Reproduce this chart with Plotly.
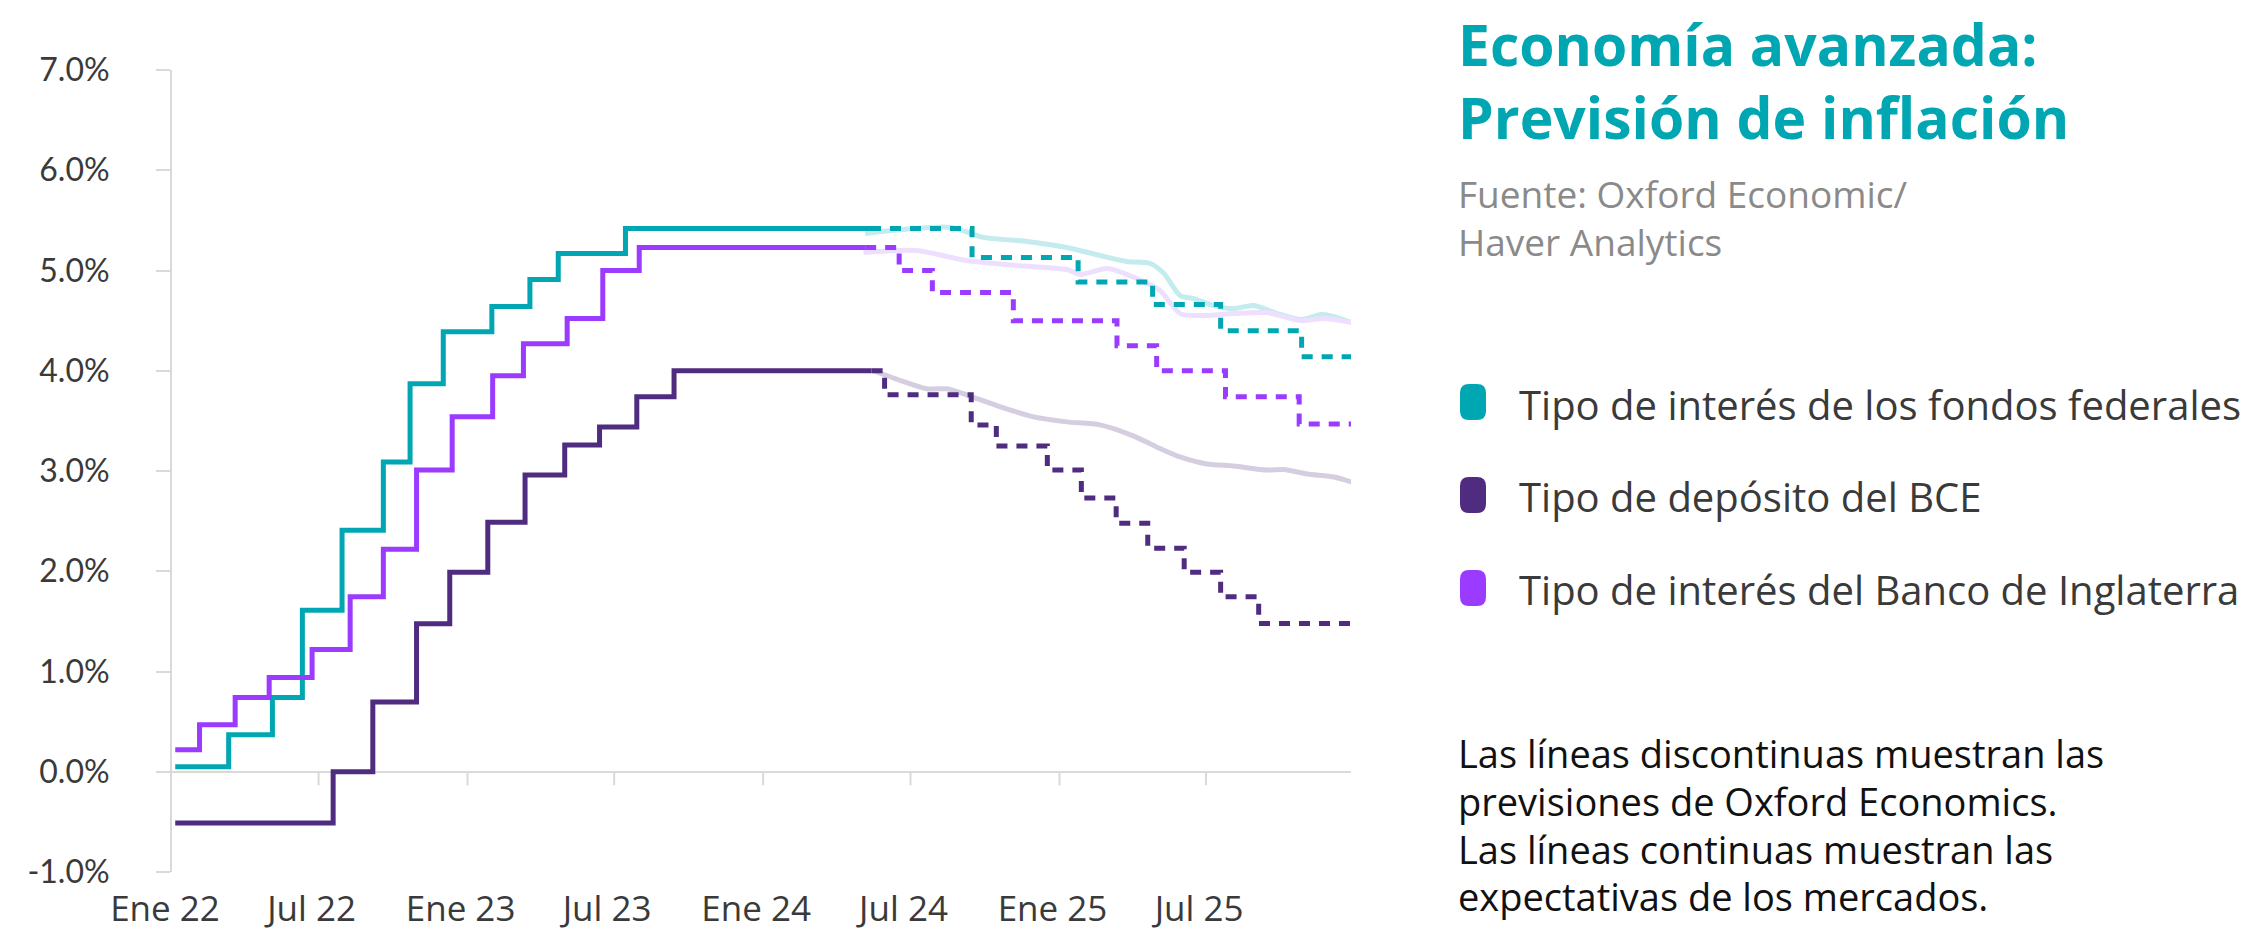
import plotly.graph_objects as go

# ---------------- data ----------------
fed_hist_dates = ["2022-01-05", "2022-03-12", "2022-05-05", "2022-06-11", "2022-07-30", "2022-09-19",
                  "2022-10-22", "2022-12-02", "2023-01-31", "2023-03-19", "2023-04-23", "2023-07-15",
                  "2024-05-12"]
fed_hist_vals = [0.05, 0.37, 0.74, 1.61, 2.41, 3.09, 3.87, 4.39, 4.64, 4.91, 5.17, 5.42, 5.42]

fed_fc_dates = ["2024-05-12", "2024-09-15", "2025-01-24", "2025-04-26", "2025-07-19", "2025-10-27", "2025-12-28"]
fed_fc_vals = [5.42, 5.13, 4.885, 4.66, 4.40, 4.14, 4.14]

fed_mkt_dates = ["2024-05-06", "2024-08-19", "2024-09-29", "2024-11-22", "2025-01-10", "2025-02-20",
                 "2025-03-25", "2025-04-23", "2025-05-10", "2025-05-30", "2025-06-16", "2025-07-10",
                 "2025-08-04", "2025-08-29", "2025-09-27", "2025-10-26", "2025-11-20", "2025-12-06",
                 "2025-12-28"]
fed_mkt_vals = [5.37, 5.43, 5.33, 5.29, 5.23, 5.15, 5.09, 5.07, 4.97, 4.75, 4.72, 4.65, 4.62, 4.65,
                4.57, 4.51, 4.56, 4.54, 4.48]

ecb_hist_dates = ["2022-01-05", "2022-07-19", "2022-09-06", "2022-10-30", "2022-12-10", "2023-01-26",
                  "2023-03-13", "2023-05-01", "2023-06-13", "2023-07-29", "2023-09-13", "2024-05-14"]
ecb_hist_vals = [-0.51, 0.0, 0.695, 1.476, 1.99, 2.49, 2.96, 3.26, 3.44, 3.74, 4.0, 4.0]

ecb_fc_dates = ["2024-05-14", "2024-05-30", "2024-09-14", "2024-10-15", "2024-12-17", "2025-01-28",
                "2025-03-12", "2025-04-20", "2025-06-04", "2025-07-19", "2025-09-04", "2025-12-28"]
ecb_fc_vals = [4.0, 3.76, 3.46, 3.25, 3.01, 2.73, 2.48, 2.23, 1.99, 1.745, 1.48, 1.48]

ecb_mkt_dates = ["2024-05-16", "2024-06-18", "2024-07-21", "2024-08-15", "2024-09-08", "2024-10-20",
                 "2024-11-30", "2025-01-10", "2025-02-20", "2025-04-02", "2025-05-01", "2025-05-30",
                 "2025-07-02", "2025-08-04", "2025-09-14", "2025-10-05", "2025-11-03", "2025-12-06",
                 "2025-12-28"]
ecb_mkt_vals = [4.0, 3.905, 3.82, 3.82, 3.76, 3.64, 3.54, 3.49, 3.46, 3.35, 3.24, 3.14, 3.07, 3.05,
                3.01, 3.015, 2.97, 2.94, 2.89]

boe_hist_dates = ["2022-01-05", "2022-02-04", "2022-03-20", "2022-05-01", "2022-06-23", "2022-08-09",
                  "2022-09-19", "2022-10-30", "2022-12-13", "2023-02-01", "2023-03-11", "2023-05-04",
                  "2023-06-17", "2023-08-01", "2024-05-06"]
boe_hist_vals = [0.22, 0.47, 0.74, 0.94, 1.22, 1.745, 2.22, 3.01, 3.54, 3.95, 4.27, 4.52, 5.00, 5.23, 5.23]

boe_fc_dates = ["2024-05-06", "2024-06-17", "2024-07-28", "2024-11-05", "2025-03-13", "2025-05-01",
                "2025-07-25", "2025-10-24", "2025-12-28"]
boe_fc_vals = [5.23, 5.00, 4.78, 4.50, 4.25, 4.00, 3.74, 3.47, 3.47]

boe_mkt_dates = ["2024-05-04", "2024-07-08", "2024-09-08", "2024-11-09", "2025-01-10", "2025-01-27",
                 "2025-03-01", "2025-04-02", "2025-05-05", "2025-05-30", "2025-06-24", "2025-08-04",
                 "2025-09-14", "2025-10-26", "2025-11-24", "2025-12-28"]
boe_mkt_vals = [5.18, 5.20, 5.10, 5.05, 5.01, 4.96, 5.02, 4.935, 4.80, 4.57, 4.55, 4.57, 4.58, 4.50,
                4.52, 4.48]

x_tick_dates = ["2022-01-01", "2022-07-01", "2023-01-01", "2023-07-01", "2024-01-01", "2024-07-01",
                "2025-01-01", "2025-07-01"]
x_tick_labels = ["Ene 22", "Jul 22", "Ene 23", "Jul 23", "Ene 24", "Jul 24", "Ene 25", "Jul 25"]
y_tick_vals = [-1, 0, 1, 2, 3, 4, 5, 6, 7]
y_tick_labels = ["-1.0%", "0.0%", "1.0%", "2.0%", "3.0%", "4.0%", "5.0%", "6.0%", "7.0%"]

legend_labels = ["Tipo de interés de los fondos federales", "Tipo de depósito del BCE",
                 "Tipo de interés del Banco de Inglaterra"]
title_lines = ["Economía avanzada:", "Previsión de inflación"]
source_lines = ["Fuente: Oxford Economic/", "Haver Analytics"]
note_lines = ["Las líneas discontinuas muestran las", "previsiones de Oxford Economics.",
              "Las líneas continuas muestran las", "expectativas de los mercados."]

# ---------------- style ----------------
TEAL = "#00A6B1"
DARK = "#4F2C7F"
VIOLET = "#9A3BFF"
TEAL_L = "#C4EBED"
DARK_L = "#D5CEE0"
VIOLET_L = "#EEDFFF"
AXIS = "#D9D9D9"
TXT = "#3A3A3A"
FONT = "Lato"
FONT2 = "Open Sans"

W, H = 2253, 931
PL, PR, PT, PB = 172, 1351, 70, 872


def px(x):
    return (x - PL) / (PR - PL)


def py(y):
    return (PB - y) / (PB - PT)


fig = go.Figure()

# market expectations (light, smooth)
for d, v, c in [(fed_mkt_dates, fed_mkt_vals, TEAL_L), (boe_mkt_dates, boe_mkt_vals, VIOLET_L),
                (ecb_mkt_dates, ecb_mkt_vals, DARK_L)]:
    fig.add_trace(go.Scatter(x=d, y=v, mode="lines", showlegend=False, hoverinfo="skip",
                             line=dict(color=c, width=5, shape="spline", smoothing=0.7)))

# forecasts (dashed steps)
for d, v, c in [(fed_fc_dates, fed_fc_vals, TEAL), (boe_fc_dates, boe_fc_vals, VIOLET),
                (ecb_fc_dates, ecb_fc_vals, DARK)]:
    fig.add_trace(go.Scatter(x=d, y=v, mode="lines", showlegend=False, hoverinfo="skip",
                             line=dict(color=c, width=5, shape="hv", dash="11px,9px")))

# history (solid steps)
for d, v, c in [(fed_hist_dates, fed_hist_vals, TEAL), (boe_hist_dates, boe_hist_vals, VIOLET),
                (ecb_hist_dates, ecb_hist_vals, DARK)]:
    fig.add_trace(go.Scatter(x=d, y=v, mode="lines", showlegend=False, hoverinfo="skip",
                             line=dict(color=c, width=5, shape="hv")))

shapes = []
# x tick marks hanging below the zero line
for d in x_tick_dates[1:]:
    shapes.append(dict(type="line", xref="x", yref="y", x0=d, x1=d, y0=0, y1=-0.135,
                       line=dict(color=AXIS, width=2)))

# legend pills
pill = "M -13,-9 L -13,9 Q -13,18 -4,18 L 4,18 Q 13,18 13,9 L 13,-9 Q 13,-18 4,-18 L -4,-18 Q -13,-18 -13,-9 Z"
for c, yc in zip([TEAL, DARK, VIOLET], [402, 495, 588]):
    shapes.append(dict(type="path", xref="paper", yref="paper", xsizemode="pixel", ysizemode="pixel",
                       xanchor=px(1473), yanchor=py(yc), path=pill, fillcolor=c, line=dict(width=0)))

ann = []
for t, yc in zip(title_lines, [44, 117]):
    ann.append(dict(text=t, x=px(1456), y=py(yc), xref="paper", yref="paper", xanchor="left",
                    yanchor="middle", showarrow=False,
                    font=dict(family=FONT2, size=57, color=TEAL, weight=700)))
for t, yc in zip(source_lines, [193, 241]):
    ann.append(dict(text=t, x=px(1456), y=py(yc), xref="paper", yref="paper", xanchor="left",
                    yanchor="middle", showarrow=False,
                    font=dict(family=FONT2, size=37, color="#8A8A8A")))
for t, yc in zip(legend_labels, [404, 496, 589]):
    ann.append(dict(text=t, x=px(1517), y=py(yc), xref="paper", yref="paper", xanchor="left",
                    yanchor="middle", showarrow=False,
                    font=dict(family=FONT2, size=40, color=TXT)))
for t, yc in zip(note_lines, [753, 801, 849, 896]):
    ann.append(dict(text=t, x=px(1456), y=py(yc), xref="paper", yref="paper", xanchor="left",
                    yanchor="middle", showarrow=False,
                    font=dict(family=FONT2, size=38, color="#111111")))

fig.update_layout(
    width=W, height=H,
    margin=dict(l=PL, r=W - PR, t=PT, b=H - PB, pad=0, autoexpand=False),
    paper_bgcolor="white", plot_bgcolor="white",
    showlegend=False,
    shapes=shapes, annotations=ann,
    font=dict(family=FONT, color=TXT),
    xaxis=dict(type="date", range=["2022-01-01", "2025-12-27"], showgrid=False, zeroline=False,
               showline=False, ticks="", tickvals=x_tick_dates, ticktext=x_tick_labels, automargin=False,
               tickfont=dict(family=FONT2, size=35, color=TXT), ticklabelstandoff=13,
               ticklabelshift=-7),
    yaxis=dict(range=[-1, 7], showgrid=False, zeroline=True, zerolinecolor=AXIS, zerolinewidth=2,
               showline=True, linecolor=AXIS, linewidth=2, ticks="outside", ticklen=14, automargin=False,
               tickcolor=AXIS, tickwidth=2, tickvals=y_tick_vals, ticktext=y_tick_labels,
               tickfont=dict(family=FONT, size=32, color=TXT), ticklabelstandoff=40),
)

fig.write_html("out.html", config={"displayModeBar": False},
               post_script="document.body.style.margin='0';")
